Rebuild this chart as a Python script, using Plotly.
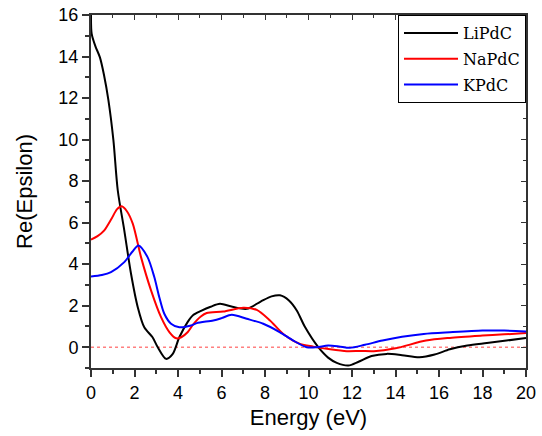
import plotly.graph_objects as go

# LiPdC
li_x = [0, 0.03, 0.2, 0.41, 0.6, 0.8, 1.03, 1.23, 1.53, 1.84, 2.15, 2.45, 2.83, 3.07, 3.45, 3.76, 4.06, 4.44, 4.7, 5.06, 5.5, 5.93, 6.5, 7.16, 7.8, 8.3, 8.69, 9.1, 9.46, 9.84, 10.45, 10.9, 11.3, 11.83, 12.3, 12.9, 13.6, 14.3, 15.1, 15.8, 16.5, 17.3, 18.2, 19.1, 20]
li_y = [16.0, 15.1, 14.5, 13.96, 13.1, 11.9, 9.97, 7.56, 5.63, 3.54, 1.93, 0.96, 0.48, 0.0, -0.56, -0.32, 0.48, 1.21, 1.55, 1.75, 1.95, 2.09, 1.95, 1.85, 2.2, 2.45, 2.5, 2.25, 1.77, 0.97, 0.0, -0.5, -0.75, -0.88, -0.7, -0.42, -0.32, -0.38, -0.48, -0.35, -0.1, 0.08, 0.2, 0.32, 0.45]

# NaPdC
na_x = [0, 0.3, 0.61, 0.95, 1.2, 1.41, 1.65, 1.92, 2.3, 2.76, 3.22, 3.61, 3.92, 4.15, 4.44, 4.7, 5.05, 5.32, 6.08, 7.0, 7.62, 8.23, 8.84, 9.61, 10.22, 11.0, 11.76, 12.4, 13.0, 14.0, 15.4, 16.5, 18.0, 19.0, 20]
na_y = [5.18, 5.35, 5.63, 6.2, 6.65, 6.79, 6.55, 5.95, 4.34, 2.74, 1.45, 0.72, 0.43, 0.48, 0.72, 1.1, 1.48, 1.65, 1.72, 1.9, 1.8, 1.29, 0.64, 0.16, 0.03, -0.1, -0.19, -0.18, -0.19, -0.05, 0.32, 0.45, 0.56, 0.62, 0.68]

# KPdC
k_x = [0, 0.5, 0.92, 1.53, 1.9, 2.18, 2.6, 2.91, 3.14, 3.37, 3.68, 4.06, 4.6, 4.86, 5.62, 6.0, 6.47, 7.16, 7.92, 8.69, 9.3, 9.92, 10.38, 10.9, 11.4, 11.9, 12.6, 13.4, 14.3, 15.3, 16.5, 18.0, 19.0, 20]
k_y = [3.41, 3.48, 3.62, 4.1, 4.6, 4.9, 4.34, 3.38, 2.41, 1.61, 1.13, 0.96, 1.05, 1.16, 1.29, 1.4, 1.56, 1.37, 1.13, 0.72, 0.32, 0.0, 0.0, 0.08, 0.04, -0.03, 0.12, 0.32, 0.5, 0.64, 0.72, 0.8, 0.8, 0.76]

x_ticks = [0, 2, 4, 6, 8, 10, 12, 14, 16, 18, 20]
y_ticks = [0, 2, 4, 6, 8, 10, 12, 14, 16]

fig = go.Figure()
fig.add_trace(go.Scatter(x=[0, 20], y=[0, 0], mode="lines", showlegend=False,
                         line=dict(color="#ff8080", width=1.5, dash="dot"), hoverinfo="skip"))
fig.add_trace(go.Scatter(x=li_x, y=li_y, name="LiPdC", mode="lines", legendgroup="a",
                         line=dict(color="black", width=2, shape="spline", smoothing=0.8)))
fig.add_trace(go.Scatter(x=na_x, y=na_y, name="NaPdC", mode="lines", legendgroup="b",
                         line=dict(color="red", width=2, shape="spline", smoothing=0.8)))
fig.add_trace(go.Scatter(x=k_x, y=k_y, name="KPdC", mode="lines", legendgroup="c",
                         line=dict(color="blue", width=2, shape="spline", smoothing=0.8)))
# dummy trace for the mirrored (inward-tick) top/right axes
fig.add_trace(go.Scatter(x=[None], y=[None], xaxis="x2", yaxis="y2", showlegend=False, hoverinfo="skip"))

axis_font = dict(family="Liberation Sans, Arial", size=18, color="black")
title_font = dict(family="Liberation Sans, Arial", size=22, color="black")
fig.update_layout(
    width=542, height=436,
    margin=dict(l=91, r=16, t=15, b=68, autoexpand=False),
    paper_bgcolor="white", plot_bgcolor="white",
    showlegend=True,
    legend=dict(x=1, y=1, xanchor="right", yanchor="top",
                bordercolor="black", borderwidth=1, bgcolor="white",
                font=dict(family="DejaVu Serif, Liberation Serif, serif", size=16, color="black"),
                tracegroupgap=2, itemwidth=54),
    xaxis=dict(range=[0, 20], tickvals=x_ticks, ticks="outside", ticklen=7, tickwidth=1.5,
               tickcolor="#333", showline=True, linecolor="#333", linewidth=2, automargin=False,
               showgrid=False, zeroline=False, tickfont=axis_font,
               minor=dict(dtick=1, ticks="outside", ticklen=4, tickcolor="#333", tickwidth=1.5),
               title=dict(text="Energy (eV)", font=title_font, standoff=8)),
    yaxis=dict(range=[-1, 16], tickvals=y_ticks, ticks="outside", ticklen=7, tickwidth=1.5,
               tickcolor="#333", showline=True, linecolor="#333", linewidth=2, automargin=False,
               showgrid=False, zeroline=False, tickfont=axis_font,
               minor=dict(dtick=1, ticks="outside", ticklen=4, tickcolor="#333", tickwidth=1.5),
               title=dict(text="Re(Epsilon)", font=title_font, standoff=20)),
    xaxis2=dict(range=[0, 20], overlaying="x", side="top", anchor="y", tickvals=x_ticks,
                ticks="inside", ticklen=5, tickcolor="#333", showticklabels=False, automargin=False,
                showline=True, linecolor="#333", linewidth=2, showgrid=False, zeroline=False,
                minor=dict(dtick=1, ticks="inside", ticklen=3, tickcolor="#333")),
    yaxis2=dict(range=[-1, 16], overlaying="y", side="right", anchor="x", tickvals=y_ticks,
                ticks="inside", ticklen=5, tickcolor="#333", showticklabels=False, automargin=False,
                showline=True, linecolor="#333", linewidth=2, showgrid=False, zeroline=False,
                minor=dict(dtick=1, ticks="inside", ticklen=3, tickcolor="#333")),
)
fig.write_html("out.html")
